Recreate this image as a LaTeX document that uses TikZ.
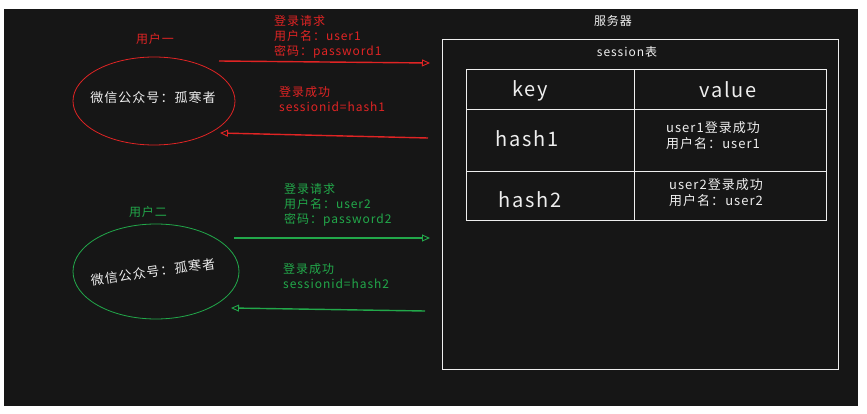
\documentclass[tikz,border=0pt]{standalone}
\usepackage{fontspec}
\setmainfont{Noto Sans CJK SC}[LetterSpace=8]
\usetikzlibrary{arrows.meta,positioning,shapes.geometric}
\definecolor{bg}{HTML}{161616}
\definecolor{rd}{HTML}{E02424}
\definecolor{gn}{HTML}{22A84A}
\definecolor{wt}{HTML}{EEEEEE}
\tikzset{
  usr/.style={ellipse,draw,line width=0.8pt,inner sep=0pt},
  lab/.style={font=\fontsize{12}{15}\selectfont,inner sep=0pt,align=left},
  wx/.style={font=\fontsize{13}{16}\selectfont,text=wt,inner sep=0pt},
  cell/.style={draw=wt,line width=1pt,inner sep=0pt,anchor=north west},
  big/.style={font=\fontsize{20}{24}\selectfont,text=wt,inner sep=0pt},
  val/.style={font=\fontsize{13}{16}\selectfont,text=wt,inner sep=0pt,align=left},
  msg/.style={line width=1.4pt,-{Triangle[open,length=8pt,width=7pt,line width=0.9pt]}}
}
\begin{document}
\begin{tikzpicture}[x=1pt,y=-1pt]
% ---------------- canvas ----------------
\useasboundingbox (0,0) rectangle (867,414);
\fill[white] (0,0) rectangle (867,414);
\fill[bg] (4,9) rectangle (858,406);
% ---------------- users ----------------
\node[lab,text=rd] (u1) at (155,39) {用户一};
\node[usr,draw=rd,minimum width=162pt,minimum height=88pt] (e1) at (154,101) {};
\node[wx] (wx1) at (153,98) {微信公众号：孤寒者};
\node[lab,text=gn] (u2) at (148,212) {用户二};
\node[usr,draw=gn,minimum width=166pt,minimum height=95pt] (e2) at (156,271.5) {};
\node[wx,rotate=8] (wx2) at (153,272) {微信公众号：孤寒者};
% ---------------- server ----------------
\node[lab,text=wt] (srvt) at (613,21) {服务器};
\node[draw=wt,line width=1pt,minimum width=396pt,minimum height=329pt,inner sep=0pt] (srv) at (640.7,204.5) {};
\node[lab,text=wt] (sest) at (627,52) {session表};
\node[cell,minimum width=168pt,minimum height=40pt] (kh) at (466,69) {};
\node[cell,minimum width=192pt,minimum height=40pt] (vh) at (634,69) {};
\node[cell,minimum width=168pt,minimum height=62pt] (k1) at (466,109) {};
\node[cell,minimum width=192pt,minimum height=62pt] (v1) at (634,109) {};
\node[cell,minimum width=168pt,minimum height=49pt] (k2) at (466,171) {};
\node[cell,minimum width=192pt,minimum height=49pt] (v2) at (634,171) {};
\node[big] (key) at (530,91) {key};
\node[big] (value) at (728,90) {value};
\node[big] (h1) at (527,139) {hash1};
\node[big] (h2) at (530,200) {hash2};
\node[val] (s1) at (713,136) {user1登录成功\\用户名：user1};
\node[val] (s2) at (716,193) {user2登录成功\\用户名：user2};
% ---------------- messages ----------------
\node[lab,text=rd,anchor=west] (q1) at (274,37) {登录请求\\用户名：user1\\密码：password1};
\node[lab,text=rd,anchor=west] (r1) at (279,99) {登录成功\\sessionid=hash1};
\node[lab,text=gn,anchor=west] (q2) at (284,205) {登录请求\\用户名：user2\\密码：password2};
\node[lab,text=gn,anchor=west] (r2) at (283,276.5) {登录成功\\sessionid=hash2};
\coordinate (a1) at (219,61);\coordinate (b1) at (430,63);
\coordinate (c1) at (428,138);\coordinate (d1) at (220,133);
\coordinate (a2) at (234,238);\coordinate (b2) at (430,238);
\coordinate (c2) at (425,311);\coordinate (d2) at (231,308);
\draw[msg,rd] (a1) -- (b1);
\draw[msg,rd] (c1) -- (d1);
\draw[msg,gn] (a2) -- (b2);
\draw[msg,gn] (c2) -- (d2);
\end{tikzpicture}
\end{document}
